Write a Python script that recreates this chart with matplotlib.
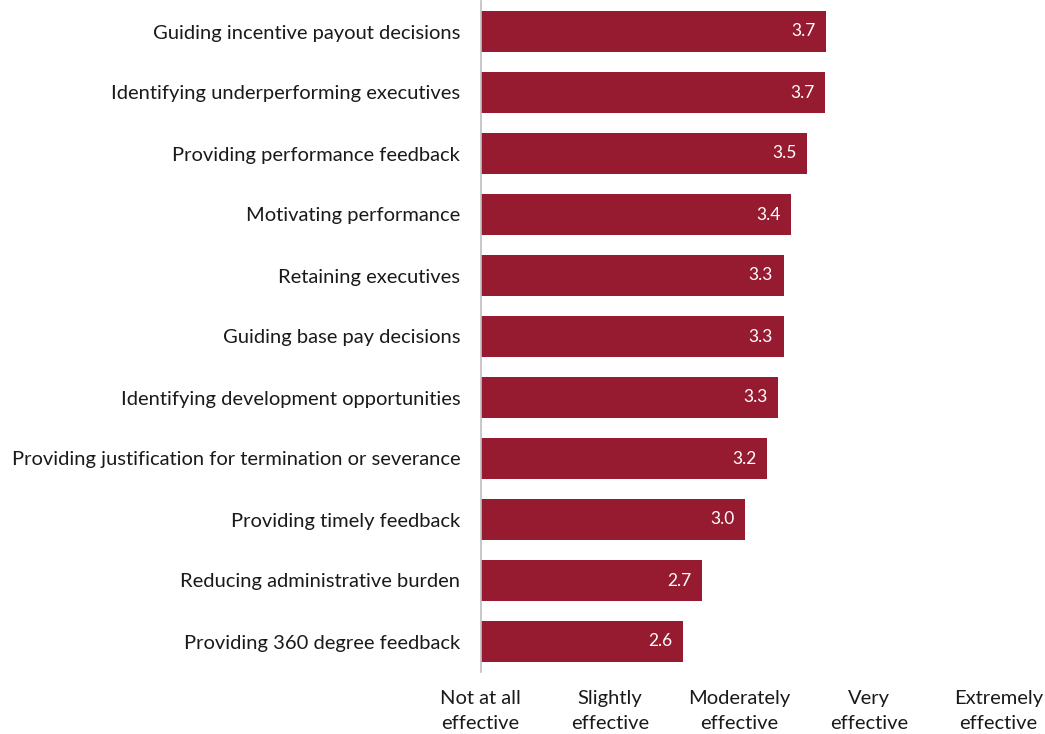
import matplotlib
matplotlib.use('Agg')
import matplotlib.pyplot as plt

plt.rcParams['font.family'] = ['Lato', 'DejaVu Sans']

categorias = ['Guiding incentive payout decisions',
              'Identifying underperforming executives',
              'Providing performance feedback',
              'Motivating performance',
              'Retaining executives',
              'Guiding base pay decisions',
              'Identifying development opportunities',
              'Providing justification for termination or severance',
              'Providing timely feedback',
              'Reducing administrative burden',
              'Providing 360 degree feedback']
valores = [3.67, 3.66, 3.52, 3.40, 3.34, 3.34, 3.30, 3.21, 3.04, 2.71, 2.56]
escala = ['Not at all\neffective', 'Slightly\neffective', 'Moderately\neffective',
          'Very\neffective', 'Extremely\neffective']

cor = '#961b31'

fig = plt.figure(figsize=(10.45, 7.34), dpi=100)
ax = fig.add_axes([480.5 / 1045, 1 - 672 / 734, 518 / 1045, 671 / 734])

pos = list(range(len(categorias)))
barras = ax.barh(pos, [v - 1 for v in valores], left=1, height=0.67, color=cor)

# rótulos brancos dentro da ponta da barra
for p, v in zip(pos, valores):
    ax.annotate('{:.1f}'.format(v), (v, p), xytext=(-7.5, 0), textcoords='offset points',
                ha='right', va='center', color='white', fontsize=12.5)

ax.set_xlim(1, 5)
ax.set_ylim(len(categorias) - 0.5, -0.5)
ax.set_yticks(pos)
ax.set_yticklabels(categorias, fontsize=14.5, color='#1a1a1a')
ax.set_xticks([1, 2, 3, 4, 5])
ax.set_xticklabels(escala, fontsize=14.5, color='#1a1a1a', linespacing=1.55)
ax.tick_params(axis='both', length=0)
ax.tick_params(axis='y', pad=14.5)
ax.tick_params(axis='x', pad=13)

for lado in ['top', 'right', 'bottom']:
    ax.spines[lado].set_visible(False)
ax.spines['left'].set_color('#bfbfbf')
ax.spines['left'].set_linewidth(1.2)

fig.savefig('out.png', dpi=100)
